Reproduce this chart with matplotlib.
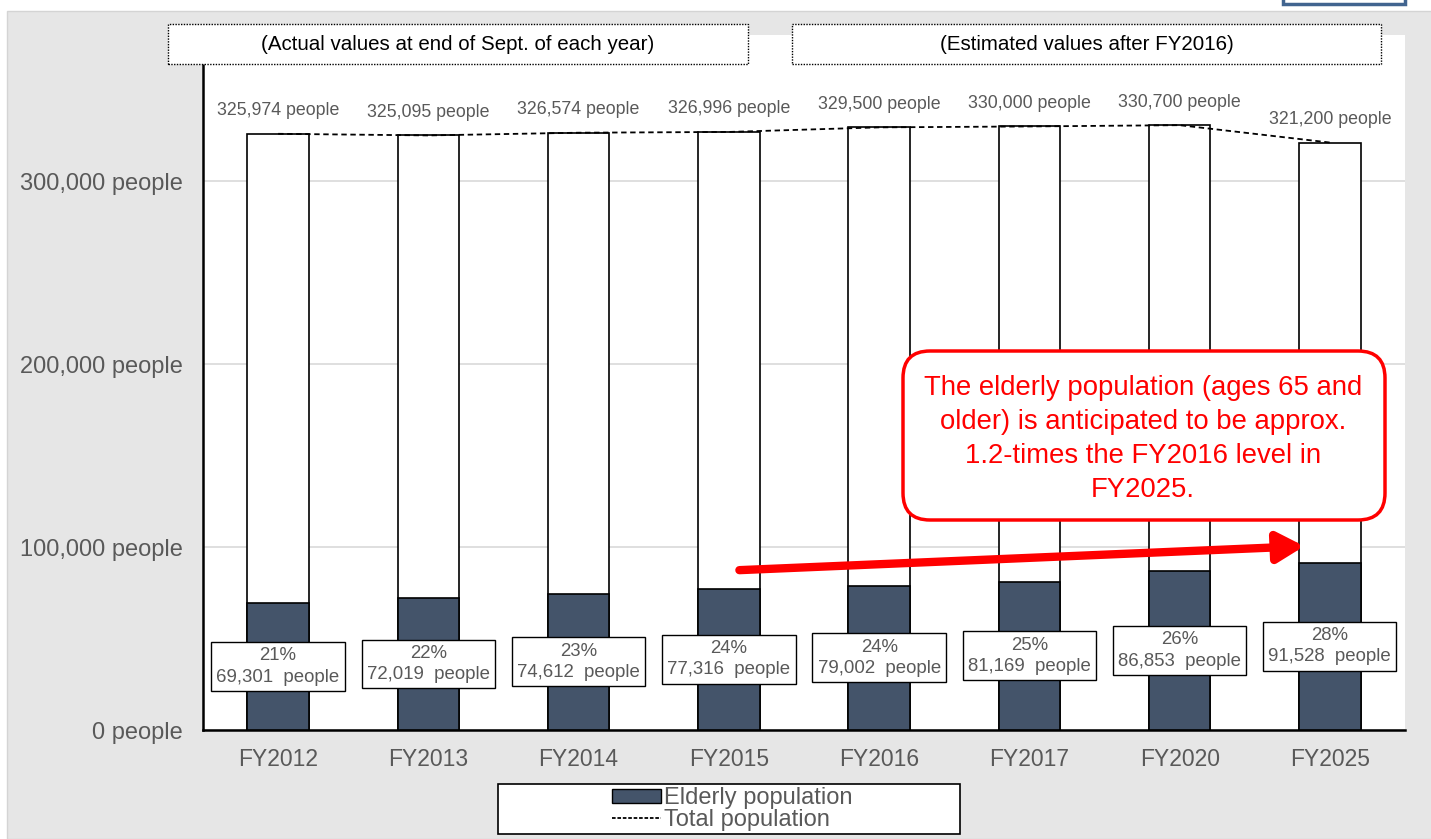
import matplotlib
matplotlib.use("Agg")
import matplotlib.pyplot as plt
from matplotlib.patches import Rectangle, FancyBboxPatch, Patch
from matplotlib.lines import Line2D
from matplotlib.ticker import FuncFormatter

plt.rcParams['font.family'] = ['Liberation Sans', 'DejaVu Sans']

# ---------------- data ----------------
years = ["FY2012", "FY2013", "FY2014", "FY2015", "FY2016", "FY2017", "FY2020", "FY2025"]
total_pop = [325974, 325095, 326574, 326996, 329500, 330000, 330700, 321200]
elderly_pop = [69301, 72019, 74612, 77316, 79002, 81169, 86853, 91528]
elderly_share = ["21%", "22%", "23%", "24%", "24%", "25%", "26%", "28%"]

GREY_TXT = "#595959"
BAR_DARK = "#44546A"

fig = plt.figure(figsize=(14.31, 8.39), dpi=100, facecolor="white")

# grey panel behind the chart
fig.patches.append(Rectangle((0.07, 0), 14.31, 8.28, transform=fig.dpi_scale_trans,
                             facecolor="#e6e6e6", edgecolor="#d4d4d4", lw=1, zorder=-10))
# little button at the top right
fig.patches.append(Rectangle((12.83, 8.35), 1.22, 0.2, transform=fig.dpi_scale_trans,
                             facecolor="white", edgecolor="#41648f", lw=2.5, zorder=-5))

ax = fig.add_axes([203 / 1431, 109 / 839, 1202 / 1431, 695 / 839])
ax.set_facecolor("white")

x = list(range(len(years)))
ax.bar(x, total_pop, width=0.41, color="white", edgecolor="black", linewidth=1.2, zorder=2)
ax.bar(x, elderly_pop, width=0.41, color=BAR_DARK, edgecolor="black", linewidth=1.2, zorder=3)
ax.plot(x, total_pop, color="black", linestyle=(0, (3, 2)), linewidth=1.3, zorder=4)

# total labels above the bars
for xi, v in zip(x, total_pop):
    ax.annotate(f"{v:,} people", (xi, v), xytext=(0, 23), textcoords="offset pixels",
                ha="center", va="center", fontsize=12.8, color=GREY_TXT, zorder=6)

# elderly share boxes
for xi, v, s in zip(x, elderly_pop, elderly_share):
    ax.text(xi, v / 2, f"{s}\n{v:,}  people", ha="center", va="center", fontsize=13.4,
            color=GREY_TXT, linespacing=1.33, zorder=6,
            bbox=dict(boxstyle="square,pad=0.28", facecolor="white", edgecolor="black", lw=1))

ax.set_xlim(-0.5, len(years) - 0.5)
ax.set_ylim(0, 380000)
ax.set_yticks([0, 100000, 200000, 300000])
ax.yaxis.set_major_formatter(FuncFormatter(lambda v, p: f"{int(v):,} people"))
ax.set_xticks(x)
ax.set_xticklabels(years)
ax.tick_params(axis="y", length=0, pad=14.4, labelsize=17, labelcolor=GREY_TXT)
ax.tick_params(axis="x", length=0, pad=13, labelsize=16.5, labelcolor=GREY_TXT)
ax.grid(axis="y", color="#d9d9d9", lw=1.2, zorder=0)
ax.set_axisbelow(True)
for side in ["top", "right"]:
    ax.spines[side].set_visible(False)
ax.spines["left"].set_linewidth(1.8)
ax.spines["bottom"].set_linewidth(1.8)

# red arrow
ax.annotate("", xy=(6.83, 100500), xytext=(3.07, 87400),
            arrowprops=dict(arrowstyle="-|>,head_length=1.6,head_width=0.9",
                            color="red", lw=6, shrinkA=0, shrinkB=0), zorder=7)

# callout
fig.patches.append(FancyBboxPatch((9.03, 3.19), 4.82, 1.69, transform=fig.dpi_scale_trans,
                                  boxstyle="round,pad=0,rounding_size=0.27",
                                  facecolor="white", edgecolor="red", lw=2.5, zorder=8))
fig.text(11.43 / 14.31, 4.00 / 8.39,
         "The elderly population (ages 65 and\nolder) is anticipated to be approx.\n"
         "1.2-times the FY2016 level in\nFY2025.",
         ha="center", va="center", fontsize=19.8, color="red", linespacing=1.4, zorder=9)

# header boxes
for x0, x1, label in [(1.68, 7.48, "(Actual values at end of Sept. of each year)"),
                      (7.92, 13.81, "(Estimated values after FY2016)")]:
    fig.patches.append(Rectangle((x0, 7.75), x1 - x0, 0.40, transform=fig.dpi_scale_trans,
                                 facecolor="white", edgecolor="black", lw=1,
                                 linestyle=(0, (1, 1)), zorder=8))
    fig.text((x0 + x1) / 2 / 14.31, 7.95 / 8.39, label, ha="center", va="center",
             fontsize=14.8, color="black", zorder=9)

# legend
fig.patches.append(Rectangle((4.98, 0.05), 4.62, 0.50, transform=fig.dpi_scale_trans,
                             facecolor="white", edgecolor="black", lw=1.2, zorder=8))
handles = [Patch(facecolor=BAR_DARK, edgecolor="black", lw=1),
           Line2D([0], [0], color="black", linestyle=(0, (2, 1)), lw=1.3)]
leg = fig.legend(handles, ["Elderly population", "Total population"],
                 loc="center", bbox_to_anchor=(7.32 / 14.31, 0.30 / 8.39),
                 frameon=False, fontsize=17, handlelength=2.1, handleheight=0.55,
                 handletextpad=0.1, labelspacing=0.0, borderpad=0)
for t in leg.get_texts():
    t.set_color(GREY_TXT)
leg.set_zorder(9)

fig.savefig("out.png", dpi=100)
